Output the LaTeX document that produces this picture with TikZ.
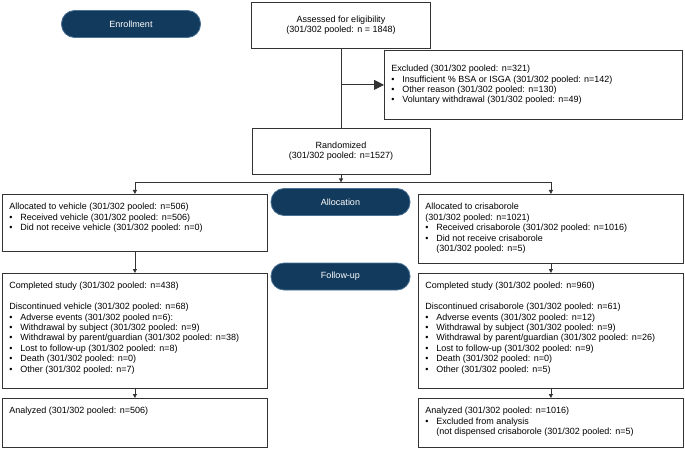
\documentclass[tikz,border=0pt]{standalone}
\usepackage{fontspec}
\setmainfont{Liberation Sans}
\usepackage{xcolor}
\usepackage{tikz}
\usetikzlibrary{calc,arrows.meta}

\definecolor{Navy}{HTML}{123A5C}
\definecolor{NavyEdge}{HTML}{4A7194}
\definecolor{Frame}{HTML}{333333}

\newcommand{\bul}{\par\hangindent=11pt\hangafter=1\noindent\makebox[11pt][l]{\textbullet}}
\newcommand{\boxtext}[4][t]{\parbox[t][#3][#1]{#2}{\raggedright #4}}

\tikzset{
  txt/.style={font=\fontsize{9}{10.4}\selectfont},
  box/.style={txt, draw=Frame, line width=0.8pt, inner xsep=7pt, inner ysep=9pt, anchor=north west},
  mbox/.style={txt, draw=Frame, line width=0.8pt, align=center},
  pill/.style={txt, fill=Navy, draw=NavyEdge, line width=0.8pt, rounded corners=13pt,
               text=white, minimum width=139pt, minimum height=27pt},
  line/.style={draw=Frame, line width=0.8pt},
  arr/.style={line, -{Triangle[length=4pt,width=4pt]}},
  bigarr/.style={line, -{Triangle[length=10pt,width=10pt]}}
}

\begin{document}
\begin{tikzpicture}[x=1pt, y=-1pt]
            \useasboundingbox (0,0) rectangle (685,449);
            % stage labels
            \node[pill] (enroll) at (131,24)    {Enrollment};
            \node[pill] (alloc)  at (340.5,202) {Allocation};
            \node[pill] (follow) at (340.5,276.5) {Follow-up};
            % enrollment
            \node[mbox, minimum width=179pt, minimum height=46pt] (assess) at (341,25)
                  {Assessed for eligibility\\(301/302 pooled: n = 1848)};
            \node[box] (excl) at (384,50) {\boxtext[c]{284pt}{51pt}{Excluded (301/302 pooled: n=321)
                  \bul Insufficient \% BSA or ISGA (301/302 pooled: n=142)
                  \bul Other reason (301/302 pooled: n=130)
                  \bul Voluntary withdrawal (301/302 pooled: n=49)}};
            \node[mbox, minimum width=178pt, minimum height=46pt] (rand) at (341,151)
                  {Randomized\\(301/302 pooled: n=1527)};
            % allocation
            \node[box] (valloc) at (2,194) {\boxtext{251pt}{39pt}{Allocated to vehicle (301/302 pooled: n=506)
                  \bul Received vehicle (301/302 pooled: n=506)
                  \bul Did not receive vehicle (301/302 pooled: n=0)}};
            \node[box] (calloc) at (418,194) {\boxtext{251pt}{51pt}{Allocated to crisaborole\\(301/302 pooled: n=1021)
                  \bul Received crisaborole (301/302 pooled: n=1016)
                  \bul Did not receive crisaborole\newline(301/302 pooled: n=5)}};
            % follow-up
            \node[box] (vfu) at (2,273) {\boxtext{251pt}{97pt}{Completed study (301/302 pooled: n=438)
                  \par\vspace{10.4pt}Discontinued vehicle (301/302 pooled: n=68)
                  \bul Adverse events (301/302 pooled n=6):
                  \bul Withdrawal by subject (301/302 pooled: n=9)
                  \bul Withdrawal by parent/guardian (301/302 pooled: n=38)
                  \bul Lost to follow-up (301/302 pooled: n=8)
                  \bul Death (301/302 pooled: n=0)
                  \bul Other (301/302 pooled: n=7)}};
            \node[box] (cfu) at (418,273) {\boxtext{251pt}{97pt}{Completed study (301/302 pooled: n=960)
                  \par\vspace{10.4pt}Discontinued crisaborole (301/302 pooled: n=61)
                  \bul Adverse events (301/302 pooled: n=12)
                  \bul Withdrawal by subject (301/302 pooled: n=9)
                  \bul Withdrawal by parent/guardian (301/302 pooled: n=26)
                  \bul Lost to follow-up (301/302 pooled: n=9)
                  \bul Death (301/302 pooled: n=0)
                  \bul Other (301/302 pooled: n=5)}};
            % analysis
            \node[box] (vana) at (2,398) {\boxtext{251pt}{31pt}{Analyzed (301/302 pooled: n=506)}};
            \node[box] (cana) at (418,398) {\boxtext{251pt}{31pt}{Analyzed (301/302 pooled: n=1016)
                  \bul Excluded from analysis\newline(not dispensed crisaborole (301/302 pooled: n=5)}};
            % connectors
            \draw[line] (assess.south) -- (rand.north);
            \coordinate (exclfrom) at (assess.south |- excl.west);
            \draw[bigarr] (exclfrom) -- (excl.west);
            \coordinate (split) at ($(rand.south)+(0,8)$);
            \draw[arr] (rand.south) -- (split);
            \draw[arr] (split) -| (valloc.north);
            \draw[arr] (split) -| (calloc.north);
            \draw[arr] (valloc.south) -- (vfu.north);
            \draw[arr] (calloc.south) -- (cfu.north);
            \draw[arr] (vfu.south) -- (vana.north);
            \draw[arr] (cfu.south) -- (cana.north);
        \end{tikzpicture}
\end{document}
